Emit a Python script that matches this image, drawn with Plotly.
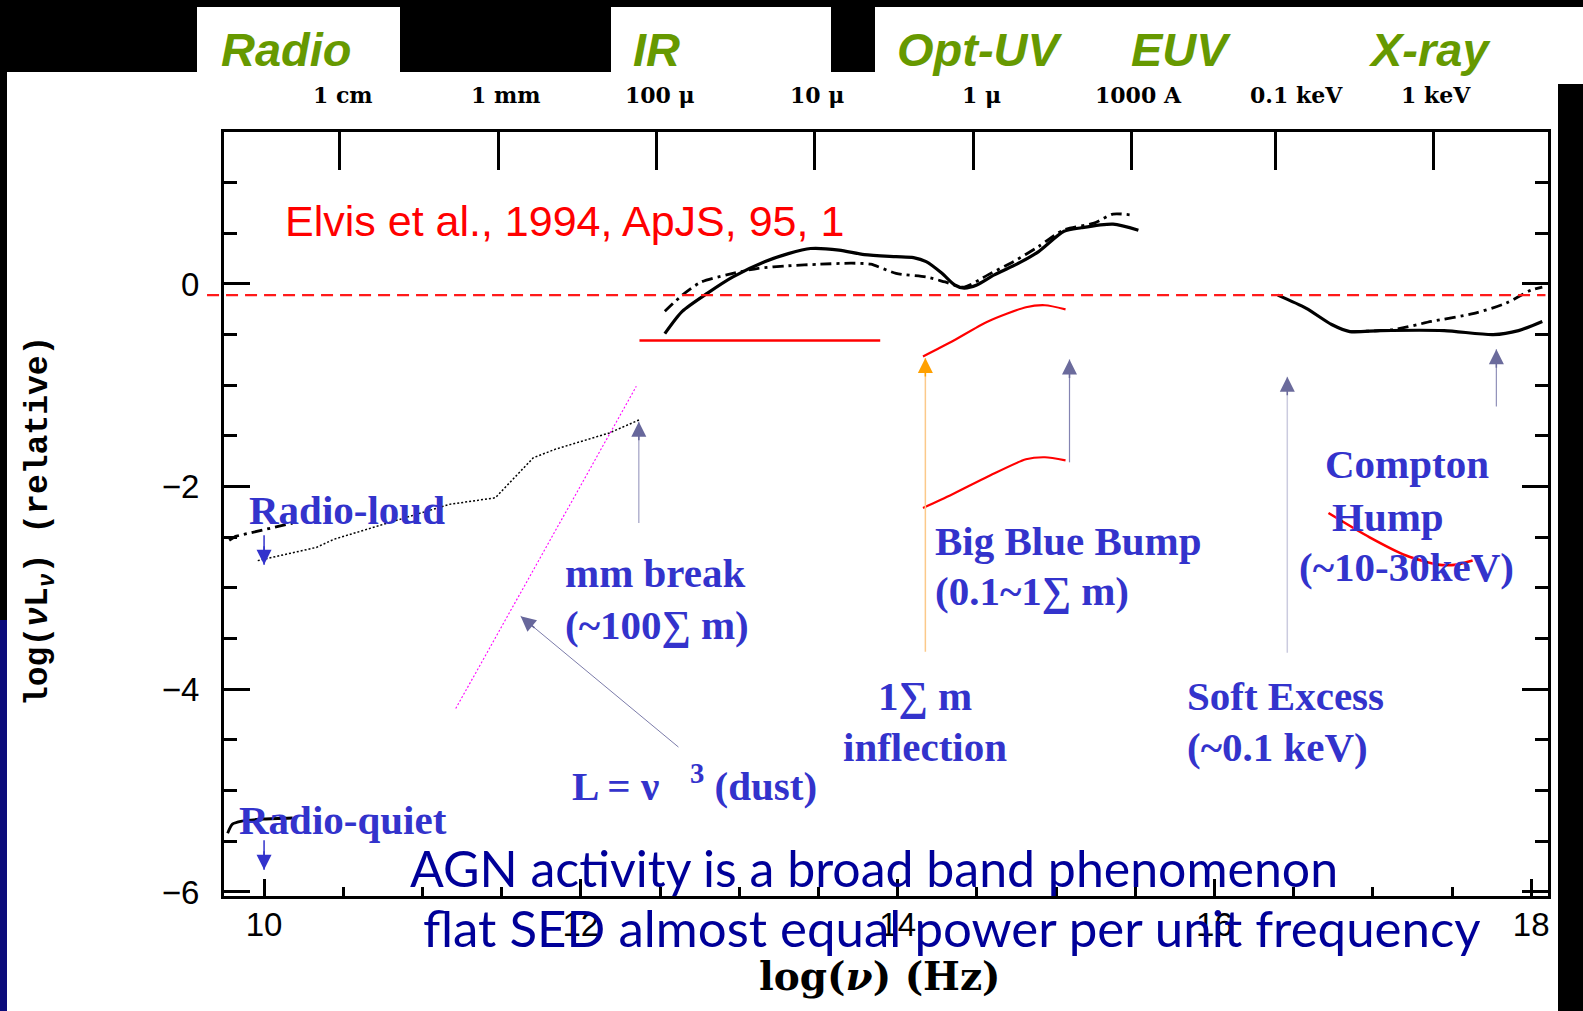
import plotly.graph_objects as go

W, H = 1583, 1011

# ---- data (x = log nu [Hz], y = log nuL_nu, relative) ----
# mean radio-quiet SED, IR to UV (solid)
rq_ir_x = [12.53, 12.64, 12.80, 12.96, 13.16, 13.31, 13.45, 13.63, 13.79, 13.99, 14.10,
           14.18, 14.28, 14.36, 14.42, 14.50, 14.61, 14.77, 14.89, 15.05, 15.16, 15.36, 15.52]
rq_ir_y = [-0.49, -0.27, -0.09, 0.07, 0.22, 0.30, 0.35, 0.335, 0.29, 0.27, 0.26,
           0.22, 0.105, -0.01, -0.04, -0.01, 0.09, 0.21, 0.32, 0.52, 0.555, 0.59, 0.53]
# mean radio-loud SED, IR to UV (dash-dot)
rl_ir_x = [12.53, 12.64, 12.76, 12.92, 13.12, 13.31, 13.51, 13.71, 13.83, 13.99, 14.18,
           14.30, 14.42, 14.57, 14.73, 14.89, 15.05, 15.24, 15.36, 15.48]
rl_ir_y = [-0.27, -0.11, 0.02, 0.09, 0.155, 0.18, 0.195, 0.205, 0.195, 0.105, 0.07,
           0.02, -0.03, 0.09, 0.22, 0.37, 0.535, 0.60, 0.69, 0.68]
# X-ray: radio-quiet (solid) and radio-loud (dash-dot)
rq_x_x = [16.40, 16.58, 16.74, 16.855, 17.05, 17.45, 17.76, 17.92, 18.07]
rq_x_y = [-0.11, -0.24, -0.40, -0.47, -0.46, -0.46, -0.50, -0.46, -0.37]
rl_x_x = [16.855, 17.13, 17.37, 17.64, 17.84, 18.00, 18.07]
rl_x_y = [-0.47, -0.45, -0.37, -0.29, -0.19, -0.06, -0.03]
# radio: radio-loud (dotted, dash-dot) and radio-quiet (solid)
rl_radio_x = [9.96, 10.33, 10.44, 10.89, 11.17, 11.46, 11.70, 11.84, 12.01, 12.18, 12.37]
rl_radio_y = [-2.73, -2.60, -2.52, -2.31, -2.175, -2.11, -1.715, -1.63, -1.55, -1.47, -1.34]
rl_radio2_x = [9.78, 9.82, 10.18]
rl_radio2_y = [-2.53, -2.49, -2.36]
rq_radio_x = [9.77, 9.80, 9.86, 10.00, 10.18]
rq_radio_y = [-5.42, -5.33, -5.30, -5.28, -5.27]
# overlaid schematic pieces
ir_flat_x = [12.37, 13.89]
ir_flat_y = [-0.557, -0.557]
bbb_x = [14.16, 14.34, 14.57, 14.81, 14.93, 15.06]
bbb_upper_y = [-0.715, -0.57, -0.37, -0.23, -0.21, -0.25]
bbb_lower_y = [-2.21, -2.08, -1.90, -1.73, -1.71, -1.74]
compton_x = [16.72, 16.98, 17.21, 17.41, 17.53, 17.63]
compton_y = [-2.26, -2.50, -2.68, -2.77, -2.77, -2.73]
dust_x = [11.21, 12.35]
dust_y = [-4.19, -1.01]
ref_x = [9.64, 18.09]
ref_y = [-0.11, -0.11]

# top axis: wavelength / energy marks
top_tick_vals = [10.477, 11.477, 12.477, 13.477, 14.477, 15.477, 16.383, 17.383]
top_tick_text = ["1 cm", "1 mm", "100 \u03bc", "10 \u03bc", "1 \u03bc", "1000 A", "0.1 keV", "1 keV"]
top_label_x = [10.50, 11.53, 12.50, 13.49, 14.53, 15.52, 16.52, 17.40]

bottom_tick_vals = [10, 12, 14, 16, 18]
left_tick_vals = [-6, -4, -2, 0]

bands = ["Radio", "IR", "Opt-UV", "EUV", "X-ray"]
band_px = [286, 656, 980, 1181, 1429]

# arrows: (tail x, tail y, tip x, tip y, shaft colour, head colour, shaft width)
arrows = [
    (12.366, -2.36, 12.366, -1.36, "#a0a0c4", "#67679b", 1.2),
    (12.616, -4.57, 11.62, -3.28, "#7c7caa", "#67679b", 1.0),
    (14.175, -3.63, 14.175, -0.73, "#fbc98a", "#ffa000", 1.5),
    (15.085, -1.76, 15.085, -0.745, "#8484b2", "#6b6b9c", 1.2),
    (16.46, -3.64, 16.46, -0.915, "#cbcbdf", "#6b6b9c", 1.5),
    (17.78, -1.21, 17.78, -0.645, "#9090b8", "#6b6b9c", 1.2),
    (10.0, -2.48, 10.0, -2.77, "#3333cc", "#3333cc", 1.5),
    (10.0, -5.49, 10.0, -5.78, "#3333cc", "#3333cc", 1.5),
]

# blue feature labels: (text, x, y, xanchor)
feature_labels = [
    ("Radio-loud", 9.895, -2.23, "left"),
    ("Radio-quiet", 9.826, -5.29, "left"),
    ("mm break", 11.89, -2.85, "left"),
    ("(~100\u2211 m)", 11.89, -3.37, "left"),
    ("L = \u03bd   <sup>3</sup> (dust)", 11.93, -4.92, "left"),
    ("Big Blue Bump", 14.226, -2.54, "left"),
    ("(0.1~1\u2211 m)", 14.226, -3.03, "left"),
    ("1\u2211 m", 14.17, -4.07, "center"),
    ("inflection", 14.17, -4.57, "center"),
    ("Soft Excess", 15.817, -4.07, "left"),
    ("(~0.1 keV)", 15.817, -4.57, "left"),
    ("Compton", 16.685, -1.78, "left"),
    ("Hump", 16.73, -2.30, "left"),
    ("(~10-30keV)", 16.52, -2.79, "left"),
]

# ---- frame geometry (figure pixels) ----
FX0, FX1, FY0, FY1 = 224, 1548, 132, 896
X_RANGE = [9.747, 18.106]
Y_RANGE = [-6.04, 1.50]
ppx = (FX1 - FX0) / (X_RANGE[1] - X_RANGE[0])
ppy = (FY1 - FY0) / (Y_RANGE[1] - Y_RANGE[0])


def px(x):
    return x / W


def py(y):
    return 1 - y / H


fig = go.Figure()


def curve(x, y, color, width, dash="solid", spline=True, ax="x", ay="y"):
    fig.add_trace(go.Scatter(
        x=x, y=y, mode="lines", xaxis=ax, yaxis=ay, hoverinfo="skip", showlegend=False,
        line=dict(color=color, width=width, dash=dash,
                  shape="spline" if spline else "linear", smoothing=0.7)))


DASHDOT = "11px,5px,3px,5px"
curve(rq_ir_x, rq_ir_y, "black", 3.2)
curve(rl_ir_x, rl_ir_y, "black", 2.8, DASHDOT)
curve(rq_x_x, rq_x_y, "black", 3.2)
curve(rl_x_x, rl_x_y, "black", 2.8, DASHDOT)
curve(rl_radio_x, rl_radio_y, "black", 1.5, "2px,2px", spline=False)
curve(rl_radio2_x, rl_radio2_y, "black", 2.8, DASHDOT, spline=False)
curve(rq_radio_x, rq_radio_y, "black", 2.8)
curve(ir_flat_x, ir_flat_y, "red", 2.6, spline=False)
curve(bbb_x, bbb_upper_y, "red", 2.2)
curve(bbb_x, bbb_lower_y, "red", 2.2)
curve(compton_x, compton_y, "red", 2.6)
curve(dust_x, dust_y, "#ff00ff", 1.1, "2px,2px", spline=False)

annotations = []
HEAD_STUB = 20.0
for tx, ty, hx, hy, c_shaft, c_head, w in arrows:
    curve([tx, hx], [ty, hy], c_shaft, w, spline=False)
    dxp, dyp = (tx - hx) * ppx, (ty - hy) * ppy
    length = (dxp ** 2 + dyp ** 2) ** 0.5
    f = HEAD_STUB / length
    annotations.append(dict(
        x=hx, y=hy, ax=hx + (tx - hx) * f, ay=hy + (ty - hy) * f,
        xref="x", yref="y", axref="x", ayref="y", text="", showarrow=True,
        arrowhead=2, arrowsize=2.0, arrowwidth=1.5, arrowcolor=c_head, standoff=0))

# reference level, allowed to run past the left frame edge
curve(ref_x, ref_y, "#ff1a1a", 2.4, "12px,7px", spline=False, ax="x3", ay="y3")

for text, x, y, anchor in feature_labels:
    annotations.append(dict(
        x=x, y=y, xref="x", yref="y", text="<b>%s</b>" % text, showarrow=False,
        xanchor=anchor, yanchor="middle",
        font=dict(family="Liberation Serif", size=41, color="#3333cc")))


def label(text, xp, yp, size, family, color, angle=0):
    annotations.append(dict(
        x=px(xp), y=py(yp), xref="paper", yref="paper", text=text, showarrow=False,
        xanchor="center", yanchor="middle", textangle=angle,
        font=dict(family=family, size=size, color=color)))


for text, x in zip(top_tick_text, top_label_x):
    annotations.append(dict(
        x=x, y=py(95), xref="x", yref="paper", text="<b>%s</b>" % text, showarrow=False,
        xanchor="center", yanchor="middle",
        font=dict(family="DejaVu Serif", size=22, color="black")))

for text, xp in zip(bands, band_px):
    label("<b><i>%s</i></b>" % text, xp, 50, 47, "Liberation Sans", "#669900")

label("Elvis et al., 1994, ApJS, 95, 1", 564, 221, 43, "Liberation Sans", "red")
label("<b>log(<i>\u03bd</i>L<sub><i>\u03bd</i></sub>) (relative)</b>", 40, 521, 33,
      "Liberation Mono", "black", angle=-90)
label("<b>log(<i>\u03bd</i>) (Hz)</b>", 880, 976, 39, "DejaVu Serif", "black")
label("AGN activity is a broad band phenomenon", 874, 868, 50, "Lato", "#000099")
label("flat SED almost equal power per unit frequency", 952, 927, 51, "Lato", "#000099")

# slide backdrop panels
shapes = []


def rect(x0, y0, x1, y1, color):
    shapes.append(dict(type="rect", xref="paper", yref="paper", layer="below",
                       x0=px(x0), x1=px(x1), y0=py(y1), y1=py(y0),
                       fillcolor=color, line=dict(width=0)))


rect(7, 72, 1558, 1011, "white")
rect(197, 7, 400, 73, "white")
rect(611, 7, 831, 73, "white")
rect(875, 7, 1583, 84, "white")
rect(0, 620, 7, 1011, "#0b0b7a")

axis_font = dict(family="Liberation Sans", size=33, color="black")
x3_left = X_RANGE[0] - (FX0 - 200) / ppx

fig.update_layout(
    width=W, height=H, autosize=False,
    margin=dict(l=0, r=0, t=0, b=0, pad=0, autoexpand=False),
    paper_bgcolor="black", plot_bgcolor="rgba(0,0,0,0)",
    showlegend=False, shapes=shapes, annotations=annotations,
    xaxis=dict(domain=[px(FX0), px(FX1)], range=X_RANGE, showgrid=False, zeroline=False,
               automargin=False,
               showline=True, linecolor="black", linewidth=3, mirror=False,
               tickvals=bottom_tick_vals, ticks="inside", ticklen=17, tickwidth=2.5,
               tickcolor="black", tickfont=axis_font, ticklabelstandoff=-3,
               minor=dict(dtick=0.5, tick0=10, ticks="inside", ticklen=9,
                          tickwidth=2.5, tickcolor="black")),
    xaxis2=dict(overlaying="x", side="top", anchor="y", range=X_RANGE, showgrid=False,
                zeroline=False, showline=True, linecolor="black", linewidth=3,
                automargin=False,
                tickvals=top_tick_vals, ticktext=top_tick_text, showticklabels=False,
                ticks="inside", ticklen=38, tickwidth=2.5, tickcolor="black"),
    yaxis=dict(domain=[py(FY1), py(FY0)], range=Y_RANGE, showgrid=False, zeroline=False,
               automargin=False,
               showline=True, linecolor="black", linewidth=3, mirror="ticks",
               tickvals=left_tick_vals, ticks="inside", ticklen=26, tickwidth=2.5,
               tickcolor="black", tickfont=axis_font, ticklabelstandoff=15,
               minor=dict(dtick=0.5, tick0=0, ticks="inside", ticklen=13,
                          tickwidth=2.5, tickcolor="black")),
    xaxis3=dict(domain=[px(200), px(FX1)], range=[x3_left, X_RANGE[1]], anchor="y3",
                visible=False),
    yaxis3=dict(domain=[py(FY1), py(FY0)], range=Y_RANGE, anchor="x3", visible=False),
)

# a dummy trace so the top axis is drawn
fig.add_trace(go.Scatter(x=[None], y=[None], xaxis="x2", yaxis="y", showlegend=False))

fig.write_html("out.html", config={"responsive": False, "displayModeBar": False})
